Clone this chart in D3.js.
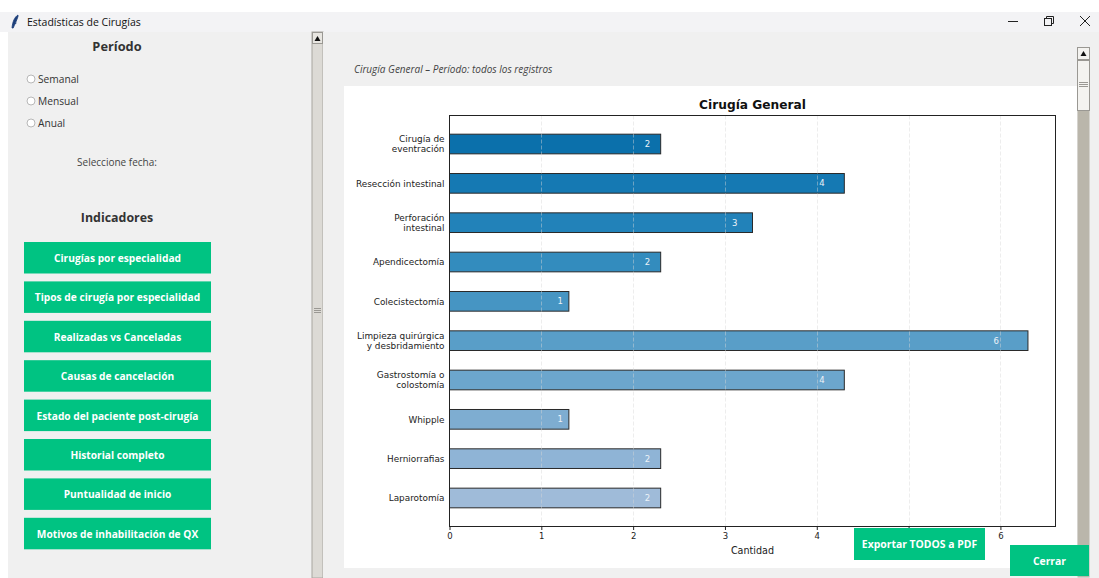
<!DOCTYPE html>
<html>
<head>
<meta charset="utf-8">
<script src="https://cdn.jsdelivr.net/npm/d3@7"></script>
<style>
  html, body { margin: 0; padding: 0; background: #ffffff; }
  svg { display: block; }
  .ui { font-family: "Open Sans", "Noto Sans", sans-serif; }
  .mpl { font-family: "DejaVu Sans", sans-serif; }
</style>
</head>
<body>
<svg id="app" width="1099" height="578"></svg>
<script>
// ---- data ----
const windowTitle = "Estadísticas de Cirugías";
const periodOptions = ["Semanal", "Mensual", "Anual"];
const indicatorButtons = [
  "Cirugías por especialidad",
  "Tipos de cirugía por especialidad",
  "Realizadas vs Canceladas",
  "Causas de cancelación",
  "Estado del paciente post-cirugía",
  "Historial completo",
  "Puntualidad de inicio",
  "Motivos de inhabilitación de QX"
];
const chartSubtitle = "Cirugía General – Período: todos los registros";
const chartTitle = "Cirugía General";
const categories = [
  "Cirugía de\neventración",
  "Resección intestinal",
  "Perforación\nintestinal",
  "Apendicectomía",
  "Colecistectomía",
  "Limpieza quirúrgica\ny desbridamiento",
  "Gastrostomía o\ncolostomía",
  "Whipple",
  "Herniorrafias",
  "Laparotomía"
];
const counts = [2, 4, 3, 2, 1, 6, 4, 1, 2, 2];
const xTicks = [0, 1, 2, 3, 4, 5, 6];
const xLabel = "Cantidad";

const svg = d3.select("#app");
const GREEN = "#00c382";

// ---- window chrome ----
svg.append("rect").attr("x", 0).attr("y", 12).attr("width", 1099).attr("height", 20).attr("fill", "#f3f3f5");
svg.append("path") // feather icon
  .attr("d", "M18,15 C14.5,17 12.5,22 12,28 L13.2,28 C14.5,25 16.5,21 18,16.5 Z M14,24 L16.5,23")
  .attr("fill", "#1d3f7a").attr("stroke", "#1d3f7a").attr("stroke-width", 0.8);
svg.append("text").attr("class", "ui").attr("x", 27).attr("y", 26)
  .attr("font-size", 10.5).attr("fill", "#111").text(windowTitle);
svg.append("line").attr("x1", 1008).attr("x2", 1018).attr("y1", 21.5).attr("y2", 21.5).attr("stroke", "#222");
svg.append("rect").attr("x", 1044.5).attr("y", 18.5).attr("width", 7).attr("height", 7).attr("fill", "none").attr("stroke", "#222");
svg.append("path").attr("d", "M1046.5,18.5 V16.5 H1053.5 V23.5 H1051.5").attr("fill", "none").attr("stroke", "#222");
svg.append("path").attr("d", "M1080,16 L1090,26 M1090,16 L1080,26").attr("stroke", "#222").attr("stroke-width", 1);

// ---- left panel ----
svg.append("rect").attr("x", 8).attr("y", 32).attr("width", 304).attr("height", 546).attr("fill", "#f0f0f0");
svg.append("text").attr("class", "ui").attr("x", 117).attr("y", 51).attr("text-anchor", "middle")
  .attr("font-size", 12.8).attr("font-weight", "bold").attr("fill", "#333").text("Período");

const radios = svg.append("g").selectAll("g").data(periodOptions).join("g")
  .attr("transform", (d, i) => `translate(0,${79 + i * 22})`);
radios.append("circle").attr("cx", 31).attr("cy", 0).attr("r", 4)
  .attr("fill", "#fff").attr("stroke", "#b8b8b8");
radios.append("text").attr("class", "ui").attr("x", 38).attr("y", 4)
  .attr("font-size", 10.2).attr("fill", "#333").text(d => d);

svg.append("text").attr("class", "ui").attr("x", 117).attr("y", 166).attr("text-anchor", "middle")
  .attr("font-size", 10).attr("fill", "#444").text("Seleccione fecha:");
svg.append("text").attr("class", "ui").attr("x", 117).attr("y", 222).attr("text-anchor", "middle")
  .attr("font-size", 12.4).attr("font-weight", "bold").attr("fill", "#333").text("Indicadores");

const btns = svg.append("g").selectAll("g").data(indicatorButtons).join("g")
  .attr("transform", (d, i) => `translate(24,${242 + i * 39.4})`);
btns.append("rect").attr("width", 187).attr("height", 31.5).attr("fill", GREEN);
btns.append("text").attr("class", "ui").attr("x", 93.5).attr("y", 20)
  .attr("text-anchor", "middle").attr("font-size", 10.2).attr("font-weight", "bold")
  .attr("fill", "#fff").text(d => d);

// left scrollbar
svg.append("rect").attr("x", 312).attr("y", 32).attr("width", 11).attr("height", 546).attr("fill", "#dcdad5").attr("stroke", "#a8a6a0");
svg.append("rect").attr("x", 312.5).attr("y", 32.5).attr("width", 10).attr("height", 11).attr("fill", "#e8e6e1").attr("stroke", "#9a9893");
svg.append("path").attr("d", "M314.5,41 L317.5,36 L320.5,41 Z").attr("fill", "#111");
[308, 310, 312].forEach(y => svg.append("line").attr("x1", 314).attr("x2", 321).attr("y1", y + 0.5).attr("y2", y + 0.5).attr("stroke", "#9a9893"));

// ---- right area ----
svg.append("rect").attr("x", 323).attr("y", 32).attr("width", 776).attr("height", 546).attr("fill", "#f0f0f0");
svg.append("text").attr("class", "ui").attr("x", 354).attr("y", 73)
  .attr("font-size", 10).attr("font-style", "italic").attr("fill", "#444").text(chartSubtitle);

// figure canvas
svg.append("rect").attr("x", 344).attr("y", 86).attr("width", 733).attr("height", 482).attr("fill", "#fff");

// ---- chart ----
const axL = 449.5, axR = 1055.5, axT = 115.5, axB = 526.5;
const BAR_PAD = 0.3;
const barLen = counts.map(v => v + BAR_PAD);

const x = d3.scaleLinear().domain([0, d3.max(counts) * 1.1]).range([axL, axR]);
const y = d3.scaleBand().domain(categories).range([axT, axB]).paddingInner(0.5).paddingOuter(0.475);

const colorT = d3.scaleLinear().domain([0, categories.length - 1]).range([0.76, 0.39]);
const chart = svg.append("g").attr("class", "mpl");

// bars
chart.selectAll("rect.bar").data(categories).join("rect").attr("class", "bar")
  .attr("x", x(0))
  .attr("y", d => y(d))
  .attr("width", (d, i) => x(barLen[i]) - x(0))
  .attr("height", y.bandwidth())
  .attr("fill", (d, i) => d3.interpolatePuBu(colorT(i)))
  .attr("stroke", "#2a2a2a").attr("stroke-width", 1);

// vertical dashed grid
chart.selectAll("line.grid").data(xTicks.filter(t => t > 0)).join("line").attr("class", "grid")
  .attr("x1", d => Math.round(x(d)) + 0.5).attr("x2", d => Math.round(x(d)) + 0.5)
  .attr("y1", axT).attr("y2", axB)
  .attr("stroke", "#d8d8d8").attr("stroke-opacity", 0.45).attr("stroke-dasharray", "4,2");

// value labels inside bars
chart.selectAll("text.val").data(categories).join("text").attr("class", "val")
  .attr("x", (d, i) => x(barLen[i] * 0.95))
  .attr("y", d => y(d) + y.bandwidth() / 2 + 3)
  .attr("text-anchor", "end").attr("font-size", 8.5).attr("fill", "#eef3f8")
  .text((d, i) => counts[i]);

// spines
chart.append("rect").attr("x", axL).attr("y", axT).attr("width", axR - axL).attr("height", axB - axT)
  .attr("fill", "none").attr("stroke", "#222").attr("stroke-width", 1);

// x axis
const xAxis = d3.axisBottom(x).tickValues(xTicks).tickFormat(d3.format("d")).tickSize(3.5).tickPadding(2.5);
const gx = chart.append("g").attr("transform", `translate(0,${axB})`).call(xAxis);
gx.select(".domain").remove();
gx.selectAll("text").attr("font-family", "DejaVu Sans").attr("font-size", 8.5).attr("fill", "#222");
gx.selectAll("line").attr("stroke", "#222");

// y axis labels (multi-line)
const yl = chart.selectAll("text.ylab").data(categories).join("text").attr("class", "ylab")
  .attr("text-anchor", "end").attr("font-size", 8.9).attr("fill", "#222");
yl.each(function(d) {
  const lines = d.split("\n");
  const cy = y(d) + y.bandwidth() / 2;
  const lh = 10;
  const t = d3.select(this);
  lines.forEach((ln, k) => {
    t.append("tspan").attr("x", 444.5)
      .attr("y", cy + 3.2 + (k - (lines.length - 1) / 2) * lh)
      .text(ln);
  });
});

chart.append("text").attr("x", (axL + axR) / 2).attr("y", 108.5).attr("text-anchor", "middle")
  .attr("font-size", 12.2).attr("font-weight", "bold").attr("fill", "#111").text(chartTitle);
chart.append("text").attr("x", (axL + axR) / 2).attr("y", 553.5).attr("text-anchor", "middle")
  .attr("font-size", 9.6).attr("fill", "#222").text(xLabel);

// right scrollbar
svg.append("rect").attr("x", 1077.5).attr("y", 47.5).attr("width", 12).attr("height", 530).attr("fill", "#bab6ab");
svg.append("rect").attr("x", 1077.5).attr("y", 47.5).attr("width", 12).attr("height", 12).attr("fill", "#f4f3f0").attr("stroke", "#9a9893");
svg.append("path").attr("d", "M1080.5,56 L1083.5,51 L1086.5,56 Z").attr("fill", "#111");
svg.append("rect").attr("x", 1077.5).attr("y", 60.5).attr("width", 12).attr("height", 50).attr("fill", "#f4f3f0").attr("stroke", "#9a9893");
[82, 84, 86].forEach(yy => svg.append("line").attr("x1", 1079).attr("x2", 1088).attr("y1", yy + 0.5).attr("y2", yy + 0.5).attr("stroke", "#9a9893"));

// bottom buttons
const bottom = [
  { label: "Exportar TODOS a PDF", x: 854, y: 528, w: 131, h: 32 },
  { label: "Cerrar", x: 1010, y: 545, w: 79, h: 31 }
];
const bb = svg.append("g").selectAll("g").data(bottom).join("g")
  .attr("transform", d => `translate(${d.x},${d.y})`);
bb.append("rect").attr("width", d => d.w).attr("height", d => d.h).attr("fill", GREEN);
bb.append("text").attr("class", "ui").attr("x", d => d.w / 2).attr("y", d => d.h / 2 + 4)
  .attr("text-anchor", "middle").attr("font-size", 10.4).attr("font-weight", "bold")
  .attr("fill", "#fff").text(d => d.label);
</script>
</body>
</html>
